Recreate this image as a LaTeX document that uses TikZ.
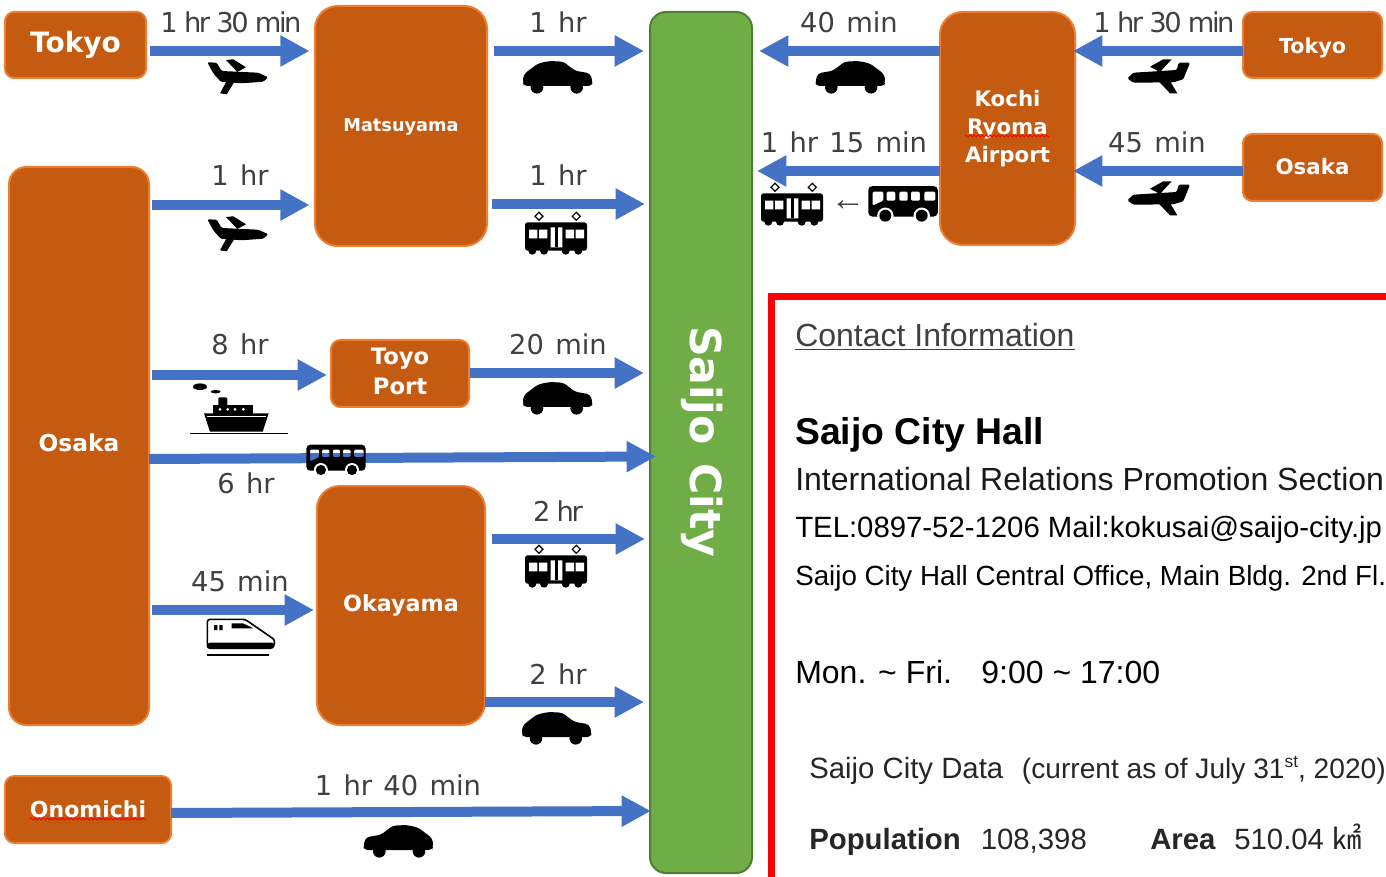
\documentclass[tikz,border=0pt]{standalone}
\usepackage{fontspec}
\setmainfont{Liberation Sans}
\newfontfamily\labelfont{DejaVu Sans}
\newfontfamily\widefont[WordSpace=1.3]{DejaVu Sans}
\newfontfamily\tightfont[LetterSpace=-9]{DejaVu Sans}
\newfontfamily\cjkfont{Noto Sans CJK JP}
\usetikzlibrary{arrows.meta,decorations.pathmorphing}

\definecolor{placefill}{HTML}{C55A11}
\definecolor{placeedge}{HTML}{ED7D31}
\definecolor{cityfill}{HTML}{70AD47}
\definecolor{cityedge}{HTML}{507E32}
\definecolor{routeblue}{HTML}{4472C4}
\definecolor{labelgrey}{HTML}{404040}

\newcommand{\fsize}[1]{\fontsize{#1}{#1}\selectfont}

\tikzset{
  place/.style={draw=placeedge, fill=placefill, line width=1.5pt, text=white, align=center, inner sep=0pt, outer sep=0pt, font=\labelfont\bfseries},
  route/.style={draw=routeblue, line width=7.5pt, -{Triangle[length=22pt,width=22pt]}},
  timelabel/.style={anchor=base, text=labelgrey, inner sep=0pt, font=\widefont\fsize{20.5}},
  tightlabel/.style={anchor=base, text=labelgrey, inner sep=0pt, font=\tightfont\fsize{20.5}},
  info/.style={anchor=base west, inner sep=0pt},
  squiggle/.style={draw=red, line width=0.6pt, decorate, decoration={snake, amplitude=0.8pt, segment length=3pt}},
  planeicon/.pic={
    \fill[black, rounded corners=1pt] (-31.7,-13.7) -- (-22.3,-13.3) -- (-17.3,-5) -- (19.3,-3.3) -- (29.3,1.3) -- (24.3,5.7) -- (2.7,7.3) -- (-18.3,5.7) -- (-25.7,-2.7) -- cycle;
    \fill[black] (-13,-16) -- (-5.7,-16.7) -- (7,-8.7) -- (-1.7,-4) -- cycle;
    \fill[black] (-4,5) -- (-12.3,18.3) -- (-19,17.3) -- (-12.3,5) -- cycle;
  },
  planeleft/.pic={
    \fill[black, rounded corners=1pt] (-30.7,2.3) -- (-24.7,-3.3) -- (18.7,-6) -- (20.7,-13.3) -- (32,-13.3) -- (25.3,3.3) -- (15.3,6.3) -- (-24.7,6.7) -- cycle;
    \fill[black] (-8,-9.3) -- (5.3,-16.7) -- (13.7,-16.7) -- (2,-4) -- cycle;
    \fill[black] (0.3,5) -- (12,17.3) -- (19.3,17.3) -- (12,5) -- cycle;
  },
  caricon/.pic={
    \fill[black, rounded corners=2.5pt] (-34.7,-2) -- (-29.7,-6.3) -- (-19.7,-13.7) -- (-8,-16) -- (5.3,-15.3) -- (17,-6.3) -- (32,-3.7) -- (34.7,4.7) -- (33.7,9) -- (-34,9) -- (-35,6) -- cycle;
    \fill[black] (-21,10.3) circle (6.3) (18.7,10.3) circle (6.3);
  },
  trainicon/.pic={
    \fill[black, rounded corners=2pt] (-31,-12.7) rectangle (31,15.7);
    \fill[black] (-23.7,15.7) circle (4) (-12,15.7) circle (4) (9.7,15.7) circle (4) (22.3,15.7) circle (4);
    \fill[white] (-27,-5.3) rectangle (-18.7,3.3) (-17,-5.3) rectangle (-8.7,3.3) (9.7,-5.3) rectangle (18,3.3) (19.7,-5.3) rectangle (28,3.3) (-5.3,-7.7) rectangle (6.3,12.3);
    \fill[black] (-0.7,-7.7) rectangle (1.7,12.3);
    \draw[black, line width=0.9pt] (-17,-22.7) -- (-13,-18.7) -- (-17,-14.7) -- (-21,-18.7) -- cycle (20.3,-22.7) -- (24.3,-18.7) -- (20.3,-14.7) -- (16.3,-18.7) -- cycle;
  },
  busicon/.pic={
    \fill[black, even odd rule] [rounded corners=3pt] (-29.7,-15.3) rectangle (29.7,10.7)
      [rounded corners=0.8pt] (-26,-10.5) -- (-16.8,-10.5) -- (-16.8,-2.8) -- (-26,1.4) -- cycle
      (-14,-10.5) rectangle (-6.6,-2.8) (-3.1,-10.5) rectangle (4,-2.8) (6.8,-10.5) rectangle (14.5,-2.8) (18.2,-10.5) rectangle (27.6,-2.8);
    \fill[white] (-15.1,10) circle (7) (16,10) circle (7);
    \fill[black] (-15.1,10) circle (5.1) (16,10) circle (5.1);
  },
  shipicon/.pic={
    \fill[black] (-39,-23.3) ellipse (7 and 3.3) (-23.3,-18.3) ellipse (5 and 1.7);
    \fill[black, rounded corners=1pt] (-20.7,-12.7) rectangle (-11.7,-4);
    \fill[black] (-26.3,-5) rectangle (13.7,4);
    \fill[black] (-35,3.3) -- (29.7,3.3) -- (23.7,21.7) -- (-29,21.7) -- cycle;
    \fill[white] (-19,-0.7) circle (1.5) (-11.3,-0.7) circle (1.5) (-4,-0.7) circle (1.5) (4.3,-0.7) circle (1.5);
    \draw[white, line width=0.5pt] (-32,6) -- (27,6);
    \draw[black, line width=0.8pt] (-49,23.3) -- (49.3,23.3);
  },
  bulleticon/.pic={
    \draw[black, fill=white, line width=1.2pt, rounded corners=2pt] (-33.7,-16.7) -- (4,-16.7) -- (34,4) -- (32.3,12.3) -- (-33.7,12.3) -- cycle;
    \fill[black] (-27,-11) rectangle (-23.7,-6) (-21.7,-11) rectangle (-18.3,-6);
    \fill[black] (-9.3,-12.7) -- (2,-12.7) -- (12.3,-7.7) -- (-9.3,-7.7) -- cycle;
    \fill[black, rounded corners=2pt] (-33.7,6.7) -- (33.5,6.7) -- (32.3,12.3) -- (-33.7,12.3) -- cycle;
    \draw[black, line width=1.2pt] (-33.7,19) -- (28.3,19);
  }
}

\begin{document}
\begin{tikzpicture}[x=0.75pt, y=-0.75pt]

  \useasboundingbox (0,0) rectangle (1386,877);

  \node [draw=cityedge, fill=cityfill, line width=1.5pt, rounded corners=12pt, outer sep=0pt, minimum width=76.5pt, minimum height=645.75pt] (saijo) at (701,442.5) {};
  \node [text=white, font=\labelfont\bfseries\fsize{32}, rotate=-90] (saijolabel) at (702,442) {Saijo City};

  \node [place, rounded corners=7pt, minimum width=105.75pt, minimum height=49.5pt, font=\labelfont\bfseries\fsize{21}] (tokyol) at (75.5,45) {\raisebox{1pt}{Tokyo}};
  \node [place, rounded corners=17pt, minimum width=129pt, minimum height=180pt, font=\labelfont\bfseries\fsize{13.3}] (matsu) at (401,126) {\raisebox{-0.75pt}[\height][\depth]{Matsuyama}};
  \node [place, rounded corners=13pt, minimum width=105pt, minimum height=418.5pt, font=\labelfont\bfseries\fsize{17.5}] (osaka) at (79,446) {\raisebox{4.5pt}{Osaka}};
  \node [place, rounded corners=7pt, minimum width=103.5pt, minimum height=50.25pt, font=\labelfont\bfseries\fsize{17}] (toyo) at (400,373.5) {\raisebox{1.5pt}[\height][\depth]{Toyo}\\[5pt]\raisebox{1.5pt}[\height][\depth]{Port}};
  \node [place, rounded corners=17pt, minimum width=126pt, minimum height=179.25pt, font=\labelfont\bfseries\fsize{16.7}] (okayama) at (401,605.5) {Okayama};
  \node [place, rounded corners=7pt, minimum width=124.5pt, minimum height=50.25pt, font=\labelfont\bfseries\fsize{16.5}] (onomichi) at (88,809.5) {\raisebox{1pt}{Onomichi}};
  \node [place, rounded corners=17pt, minimum width=101.25pt, minimum height=174.75pt, font=\labelfont\bfseries\fsize{16}] (kochi) at (1007.5,128.5) {Kochi\\[5pt]Ryoma\\[5pt]Airport};
  \node [place, rounded corners=7pt, minimum width=104.25pt, minimum height=49.5pt, font=\labelfont\bfseries\fsize{15.5}] (tokyor) at (1312.5,45) {\raisebox{-2.25pt}[\height][\depth]{Tokyo}};
  \node [place, rounded corners=7pt, minimum width=104.25pt, minimum height=50.25pt, font=\labelfont\bfseries\fsize{16}] (osakar) at (1312.5,167.5) {\raisebox{1.5pt}{Osaka}};

  \draw [squiggle] (30,819) -- (146,819);
  \draw [squiggle] (965,136) -- (1050,136);

  \coordinate (rowa) at (0,51);
  \coordinate (rowb) at (0,205);
  \coordinate (rowc) at (0,204);
  \coordinate (rowd) at (0,375);
  \coordinate (rowe) at (0,373);
  \coordinate (rowf) at (0,539);
  \coordinate (rowg) at (0,610);
  \coordinate (rowh) at (0,702);
  \coordinate (rowi) at (0,171);
  \coordinate (busstart) at (149,459);
  \coordinate (busend) at (656,456.5);
  \coordinate (onostart) at (171,813);
  \coordinate (onoend) at (651,811);

  \draw [route, shorten <=3pt, shorten >=4pt] (tokyol.east |- rowa) -- (matsu.west |- rowa);
  \draw [route, shorten <=5.25pt, shorten >=4.5pt] (matsu.east |- rowa) -- (saijo.west |- rowa);
  \draw [route, shorten <=2.25pt, shorten >=4pt] (osaka.east |- rowb) -- (matsu.west |- rowb);
  \draw [route, shorten <=3.75pt, shorten >=3.75pt] (matsu.east |- rowc) -- (saijo.west |- rowc);
  \draw [route, shorten <=2.25pt, shorten >=3pt] (osaka.east |- rowd) -- (toyo.west |- rowd);
  \draw [route, shorten <=0.75pt, shorten >=4.5pt] (toyo.east |- rowe) -- (saijo.west |- rowe);
  \draw [route] (busstart) -- (busend);
  \draw [route, shorten <=5.25pt, shorten >=3.75pt] (okayama.east |- rowf) -- (saijo.west |- rowf);
  \draw [route, shorten <=2.25pt, shorten >=2.25pt] (osaka.east |- rowg) -- (okayama.west |- rowg);
  \draw [route, shorten >=4.5pt] (okayama.east |- rowh) -- (saijo.west |- rowh);
  \draw [route] (onostart) -- (onoend);
  \draw [route, shorten >=5.25pt] (kochi.west |- rowa) -- (saijo.east |- rowa);
  \draw [route, shorten >=3.75pt] (kochi.west |- rowi) -- (saijo.east |- rowi);
  \draw [route, shorten >=-1.5pt] (tokyor.west |- rowa) -- (kochi.east |- rowa);
  \draw [route, shorten >=-1.5pt] (osakar.west |- rowi) -- (kochi.east |- rowi);

  \node [tightlabel] (tka) at (231,33) {1 hr 30 min};
  \node [timelabel] (tkb) at (558,33) {1 hr};
  \node [timelabel] (tkc) at (849,33) {40 min};
  \node [tightlabel] (tkd) at (1164,33) {1 hr 30 min};
  \node [timelabel] (osa) at (240,186) {1 hr};
  \node [timelabel] (osb) at (558,186) {1 hr};
  \node [timelabel] (koa) at (844,153) {1 hr 15 min};
  \node [timelabel] (kob) at (1157,153) {45 min};
  \node [timelabel] (toa) at (240,355) {8 hr};
  \node [timelabel] (tob) at (558,355) {20 min};
  \node [timelabel] (bua) at (246,493) {6 hr};
  \node [tightlabel] (oka) at (558,521) {2 hr};
  \node [timelabel] (okb) at (240,591) {45 min};
  \node [timelabel] (okc) at (558,684) {2 hr};
  \node [timelabel] (ona) at (398,795) {1 hr 40 min};

  \pic at (239,76) {planeicon};
  \pic at (239,233) {planeicon};
  \pic at (1158,76) {planeleft};
  \pic at (1158,198) {planeleft};

  \pic at (558,77) {caricon};
  \pic [xscale=-1] at (850,77) {caricon};
  \pic at (558,398) {caricon};
  \pic at (557,728) {caricon};
  \pic [xscale=-1] at (398,841) {caricon};

  \pic at (556,235) {trainicon};
  \pic at (792,206) {trainicon};
  \pic at (556,568) {trainicon};

  \pic at (336,460) {busicon};
  \pic [scale=1.17] at (903,204) {busicon};
  \node [text=labelgrey, font=\fsize{26}] (change) at (848,206) {←};

  \pic at (239,410) {shipicon};
  \pic at (241,636) {bulleticon};

  \draw [red, line width=5.25pt] (771.5,885) -- (771.5,296.5) -- (1395,296.5);

  \node [info, text=labelgrey, font=\fsize{24}] (contact) at (795,347) {\underline{Contact Information}};
  \node [info, font=\bfseries\fsize{28}] (hall) at (795,445) {Saijo City Hall};
  \node [info, text=black!90, font=\fsize{24}] (section) at (795,490) {International Relations Promotion Section};
  \node [info, font=\fsize{22}] (tel) at (795,537) {TEL:0897-52-1206 Mail:kokusai@saijo-city.jp};
  \node [info, font=\fsize{20.8}] (office) at (795,585) {Saijo City Hall Central Office, Main Bldg. 2nd Fl.};
  \node [info, font=\fsize{24}] (hours) at (795,683) {Mon. \textasciitilde{} Fri.\hspace{22pt}9:00 \textasciitilde{} 17:00};
  \node [info, text=black!85, font=\fsize{22}] (data) at (809,778) {Saijo City Data\hspace{14pt}{\fsize{21.1}(current as of July 31\raisebox{8pt}{\fsize{13}st}, 2020)}};
  \node [info, text=black!85, font=\fsize{22}] (pop) at (809,849) {\textbf{Population}\hspace{15pt}108,398};
  \node [info, text=black!85, font=\fsize{22}] (area) at (1150,849) {\textbf{Area}\hspace{14pt}510.04 {\cjkfont ㎢}};

\end{tikzpicture}
\end{document}
